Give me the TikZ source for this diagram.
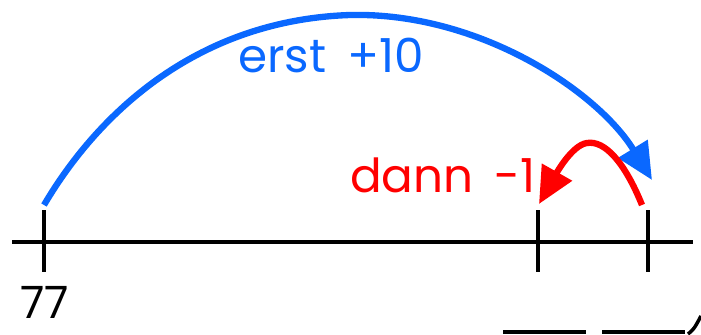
\documentclass[tikz,border=0pt]{standalone}
\usepackage{fontspec}
\setmainfont{Poppins}
\usetikzlibrary{arrows.meta}
\definecolor{jumpblue}{RGB}{10,104,255}
\definecolor{jumpred}{RGB}{255,0,0}
\tikzset{
  axis/.style={line width=3.4pt, black},
  tick/.style={line width=3.4pt, black},
  jump/.style={line width=5.4pt, -{Triangle[length=1.1cm,width=1cm]}},
  lbl/.style={anchor=base west, inner sep=0pt, text depth=0pt, font=\fontsize{40}{48}\selectfont},
  blank/.style={line width=2.6pt, black}
}
\begin{document}
\begin{tikzpicture}[x=0.03cm, y=-0.03cm]
\useasboundingbox (0,0) rectangle (701,334);
% number line
\coordinate (left) at (12,242);
\coordinate (right) at (693,242);
\draw[axis] (left) -- (right);
\foreach \name/\x in {start/44, mid/538, end/648} {
  \coordinate (\name-top) at (\x,210);
  \coordinate (\name-bot) at (\x,272);
  \draw[tick] (\name-top) -- (\name-bot);
}
\draw (20,318) node [lbl, font=\fontsize{38}{44}\selectfont] (startlbl) {77};
% first jump
\coordinate (bluefrom) at (44,205);
\coordinate (bluepeak) at (350,15);
\coordinate (blueto) at (652,180);
\draw[jump, jumpblue] (bluefrom) .. controls (100,110) and (200,20) .. (bluepeak)
  .. controls (480,12) and (598,92) .. (blueto);
\draw (238,72) node [lbl, text=jumpblue] (bluelbl) {erst\hspace{0.45em}+10};
% second jump
\coordinate (redfrom) at (642,205);
\coordinate (redpeak) at (587,143);
\coordinate (redto) at (539,204);
\draw[jump, jumpred] (redfrom) .. controls (625,163) and (605,140) .. (redpeak)
  .. controls (572,145) and (556,174) .. (redto);
\draw (350,192) node [lbl, text=jumpred] (redlbl) {dann\hspace{0.45em}-1};
% answer blanks
\coordinate (blankA-l) at (503,332);
\coordinate (blankA-r) at (586,332);
\coordinate (blankB-l) at (602,332);
\coordinate (blankB-r) at (685,332);
\draw[blank] (blankA-l) -- (blankA-r);
\draw[blank] (blankB-l) -- (blankB-r);
\coordinate (corner-a) at (688,334);
\coordinate (corner-b) at (701,316);
\draw[line width=3pt] (corner-a) .. controls (694,329) .. (corner-b);
\end{tikzpicture}
\end{document}
